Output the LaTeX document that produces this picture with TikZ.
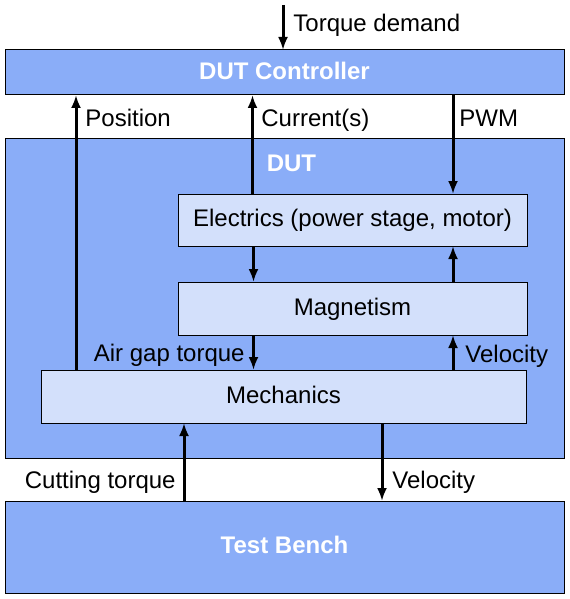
\documentclass[tikz,border=0pt]{standalone}
\usepackage{fontspec}
\setmainfont{Liberation Sans}
\usetikzlibrary{arrows.meta}
\usetikzlibrary{calc}
\usepackage{xcolor}

\definecolor{boxdark}{RGB}{138,173,248}
\definecolor{boxlight}{RGB}{211,224,251}

\begin{document}
\fontsize{12pt}{14pt}\selectfont
\begin{tikzpicture}[x=0.5pt,y=-0.5pt,
    outerbox/.style={draw=black, line width=0.5pt, fill=boxdark, inner sep=0pt, outer sep=0pt,
      text height=8.6pt, text depth=2pt, text=white, font=\bfseries},
    innerbox/.style={draw=black, line width=0.5pt, fill=boxlight, inner sep=0pt, outer sep=0pt,
      text height=8.6pt, text depth=2pt},
    sig/.style={line width=1.5pt, -{Latex[length=6.5pt,width=5pt]}},
    lbl/.style={inner sep=0pt}]
      \useasboundingbox (0,0) rectangle (569,599);

      % Blocks
      \node[outerbox, minimum width=279.5pt, minimum height=22.5pt] (ctrl) at (284.5,72.5) {DUT Controller};
      \node[outerbox, minimum width=279.5pt, minimum height=160pt] (dut) at (284.5,298) {};
      \node[lbl, anchor=base, text=white, font=\bfseries] (dutname) at (291.5,171) {DUT};
      \node[innerbox, minimum width=174.5pt, minimum height=26pt] (elec) at (352.5,220) {Electrics (power stage, motor)};
      \node[innerbox, minimum width=174.5pt, minimum height=26.5pt] (magn) at (352.5,308.5) {Magnetism};
      \node[innerbox, minimum width=242.5pt, minimum height=26.5pt] (mech) at (283.5,396.5) {Mechanics};
      \node[outerbox, minimum width=279.5pt, minimum height=46pt] (bench) at (284.5,547) {Test Bench};

      % Signal columns
      \foreach \n/\x in {pos/76, cur/252.5, pwm/453, gap/253.5, cut/184, vel/382}
      {
        \coordinate (x\n) at (\x,0);
      }
      \coordinate (tdem) at (283,5);

      % Signals
      \draw[sig] (tdem) -- (ctrl.north -| tdem);
      \draw[sig] (mech.north -| xpos) -- (ctrl.south -| xpos);
      \draw[sig] (elec.north -| xcur) -- (ctrl.south -| xcur);
      \draw[sig] (ctrl.south -| xpwm) -- (elec.north -| xpwm);
      \draw[sig] (elec.south -| xgap) -- (magn.north -| xgap);
      \draw[sig] (magn.north -| xpwm) -- (elec.south -| xpwm);
      \draw[sig] (magn.south -| xgap) -- (mech.north -| xgap);
      \draw[sig] (mech.north -| xpwm) -- (magn.south -| xpwm);
      \draw[sig] (bench.north -| xcut) -- (mech.south -| xcut);
      \draw[sig] (mech.south -| xvel) -- (bench.north -| xvel);

      % Labels
      \node[lbl, anchor=base west] (ltdem) at (293,31.5) {Torque demand};
      \node[lbl, anchor=base west] (lpos) at (85,126.5) {Position};
      \node[lbl, anchor=base west] (lcur) at (261,126.5) {Current(s)};
      \node[lbl, anchor=base west] (lpwm) at (459,126.5) {PWM};
      \node[lbl, anchor=base east] (lgap) at (245,361.5) {Air gap torque};
      \node[lbl, anchor=base west] (lvelup) at (465,362.5) {Velocity};
      \node[lbl, anchor=base east] (lcut) at (176,488.5) {Cutting torque};
      \node[lbl, anchor=base west] (lveldn) at (392,488.5) {Velocity};
  \end{tikzpicture}
\end{document}
